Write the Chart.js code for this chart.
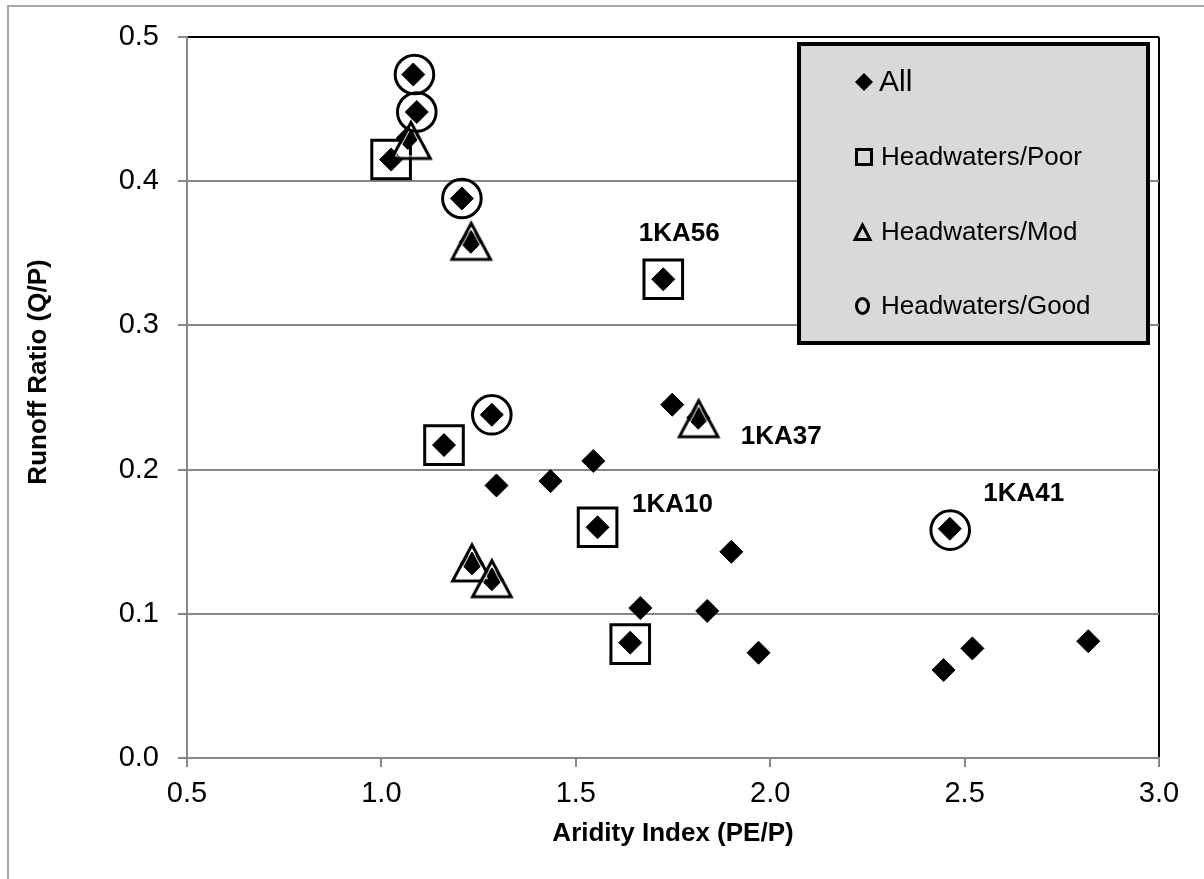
<!DOCTYPE html>
<html>
<head>
<meta charset="utf-8">
<title>Runoff Ratio vs Aridity Index</title>
<script src="https://cdn.jsdelivr.net/npm/chart.js@4.4.1/dist/chart.umd.min.js"></script>
<style>
  body { margin: 0; background: #fff; }
  #wrap { width: 1204px; height: 879px; }
</style>
</head>
<body>
<div id="wrap"><canvas id="chart" width="1204" height="879"></canvas></div>
<script>
const FONT = '"Liberation Sans", Arial, sans-serif';
const GRID = '#878787';

// Axis ticks
const xTicks = [0.5, 1.0, 1.5, 2.0, 2.5, 3.0];
const yTicks = [0.0, 0.1, 0.2, 0.3, 0.4, 0.5];

const seriesNames = ['All', 'Headwaters/Poor', 'Headwaters/Mod', 'Headwaters/Good'];
const yTitle = 'Runoff Ratio (Q/P)';

// Aridity index (PE/P) and runoff ratio (Q/P), every catchment
const allX = [1.082, 1.091, 1.068, 1.025, 1.207, 1.230, 1.725, 1.748, 1.815, 1.161, 1.284, 1.545, 1.296,
              1.435, 1.556, 1.900, 1.233, 1.284, 1.666, 1.838, 1.640, 1.970, 2.462, 2.446, 2.520, 2.818];
const allY = [0.474, 0.448, 0.430, 0.415, 0.388, 0.358, 0.332, 0.245, 0.236, 0.217, 0.238, 0.206, 0.189,
              0.192, 0.160, 0.143, 0.135, 0.124, 0.104, 0.102, 0.080, 0.073, 0.159, 0.061, 0.076, 0.081];

// Headwater catchments by condition
const poorX = [1.025, 1.161, 1.725, 1.556, 1.640];
const poorY = [0.415, 0.217, 0.332, 0.160, 0.079];
const modX = [1.076, 1.231, 1.816, 1.233, 1.284];
const modY = [0.429, 0.359, 0.236, 0.136, 0.125];
const goodX = [1.085, 1.091, 1.207, 1.284, 2.463];
const goodY = [0.474, 0.448, 0.388, 0.238, 0.158];

// Named sites (index into allX/allY)
const siteNames = ['1KA56', '1KA37', '1KA10', '1KA41'];
const siteIndex = [6, 8, 14, 22];

function pairs(xs, ys) {
    return xs.map((x, i) => ({ x: x, y: ys[i] }));
}

// Hollow triangle marker, centred on its bounding box
function makeTriangle() {
    const c = document.createElement('canvas');
    c.width = 46;
    c.height = 46;
    const g = c.getContext('2d');
    const pts = [[23, 6], [42.3, 42], [3.7, 42]];
    g.lineJoin = 'miter';
    g.lineWidth = 3;
    g.strokeStyle = '#000';
    g.beginPath();
    pts.forEach((p, i) => i ? g.lineTo(p[0], p[1]) : g.moveTo(p[0], p[1]));
    g.closePath();
    g.stroke();
    // thin white line just inside the outline
    const cx = 23, cy = 30.45, k = 0.8;
    g.lineWidth = 1;
    g.strokeStyle = '#fff';
    g.beginPath();
    pts.forEach((p, i) => {
        const x = cx + (p[0] - cx) * k, y = cy + (p[1] - cy) * k;
        i ? g.lineTo(x, y) : g.moveTo(x, y);
    });
    g.closePath();
    g.stroke();
    return c;
}

function drawLegendMarker(ctx, i, x, y) {
    ctx.save();
    ctx.strokeStyle = '#000';
    ctx.fillStyle = '#000';
    ctx.lineWidth = 3;
    ctx.beginPath();
    if (i === 0) {
        ctx.moveTo(x - 9, y); ctx.lineTo(x, y - 9); ctx.lineTo(x + 9, y); ctx.lineTo(x, y + 9);
        ctx.closePath();
        ctx.fill();
    } else if (i === 1) {
        ctx.rect(x - 7.5, y - 7.5, 15, 15);
        ctx.stroke();
    } else if (i === 2) {
        ctx.moveTo(x - 1.5, y - 7); ctx.lineTo(x + 6, y + 7.5); ctx.lineTo(x - 9, y + 7.5);
        ctx.closePath();
        ctx.stroke();
    } else {
        ctx.ellipse(x - 1.5, y, 6, 7.5, 0, 0, Math.PI * 2);
        ctx.stroke();
    }
    ctx.restore();
}

// Grey frame round the figure, plus the vertical axis title
const frame = {
    id: 'frame',
    beforeDraw(chart) {
        const ctx = chart.ctx;
        ctx.save();
        ctx.strokeStyle = '#a6a6a6';
        ctx.lineWidth = 2;
        ctx.beginPath();
        ctx.moveTo(8, 879);
        ctx.lineTo(8, 6);
        ctx.lineTo(1204, 6);
        ctx.stroke();
        ctx.translate(39, 372);
        ctx.rotate(-Math.PI / 2);
        ctx.fillStyle = '#000';
        ctx.font = 'bold 26px ' + FONT;
        ctx.textAlign = 'center';
        ctx.textBaseline = 'middle';
        ctx.fillText(yTitle, 0, 0);
        ctx.restore();
    }
};

// Legend box in the top right of the plot
const boxLegend = {
    id: 'boxLegend',
    afterDatasetsDraw(chart) {
        const ctx = chart.ctx;
        ctx.save();
        ctx.fillStyle = '#d9d9d9';
        ctx.fillRect(799, 44, 349, 299);
        ctx.lineWidth = 4;
        ctx.strokeStyle = '#000';
        ctx.strokeRect(799, 44, 349, 299);
        const rows = [82, 157, 232, 306];
        chart.data.datasets.forEach((ds, i) => {
            drawLegendMarker(ctx, i, 864, rows[i]);
            ctx.fillStyle = '#000';
            ctx.font = (i === 0 ? '30px ' : '26px ') + FONT;
            ctx.textBaseline = 'middle';
            ctx.textAlign = 'left';
            ctx.fillText(ds.label, i === 0 ? 879 : 881, rows[i] + 1);
        });
        ctx.restore();
    }
};

// Site names next to their points
const siteLabels = {
    id: 'siteLabels',
    afterDatasetsDraw(chart) {
        const ctx = chart.ctx;
        const pts = chart.getDatasetMeta(0).data;
        const offsets = [[16, -45], [83, 19], [75, -22], [74, -35]];
        ctx.save();
        ctx.fillStyle = '#000';
        ctx.font = 'bold 26px ' + FONT;
        ctx.textAlign = 'center';
        ctx.textBaseline = 'middle';
        siteNames.forEach((name, i) => {
            const p = pts[siteIndex[i]];
            ctx.fillText(name, p.x + offsets[i][0], p.y + offsets[i][1]);
        });
        ctx.restore();
    }
};

const triangle = makeTriangle();

new Chart(document.getElementById('chart'), {
    type: 'scatter',
    data: {
        datasets: [
            {
                label: seriesNames[0],
                data: pairs(allX, allY),
                pointStyle: 'rectRot',
                pointRadius: 11.5,
                backgroundColor: '#000',
                borderColor: '#000',
                borderWidth: 1,
                order: 4
            },
            {
                label: seriesNames[1],
                data: pairs(poorX, poorY),
                pointStyle: 'rect',
                pointRadius: 27.3,
                backgroundColor: 'rgba(0,0,0,0)',
                borderColor: '#000',
                borderWidth: 3,
                order: 3
            },
            {
                label: seriesNames[2],
                data: pairs(modX, modY),
                pointStyle: triangle,
                pointRadius: 20,
                backgroundColor: 'rgba(0,0,0,0)',
                borderColor: '#000',
                order: 2
            },
            {
                label: seriesNames[3],
                data: pairs(goodX, goodY),
                pointStyle: 'circle',
                pointRadius: 19.3,
                backgroundColor: 'rgba(0,0,0,0)',
                borderColor: '#000',
                borderWidth: 3,
                order: 1
            }
        ]
    },
    options: {
        responsive: false,
        animation: false,
        events: [],
        layout: { padding: { left: 0, top: 37, right: 45, bottom: 0 } },
        plugins: {
            legend: { display: false },
            tooltip: { enabled: false }
        },
        scales: {
            x: {
                type: 'linear',
                min: 0.5,
                max: 3.0,
                afterBuildTicks: s => { s.ticks = xTicks.map(v => ({ value: v })); },
                afterFit: s => { s.height = 121; },
                ticks: {
                    callback: v => v.toFixed(1),
                    color: '#000',
                    padding: 10,
                    font: { family: FONT, size: 29 }
                },
                grid: {
                    color: c => (c.tick && c.tick.value === 3) ? '#000' : 'rgba(0,0,0,0)',
                    lineWidth: 2,
                    tickColor: GRID,
                    tickLength: 9,
                    tickWidth: 2
                },
                border: { display: true, color: GRID, width: 2 },
                title: {
                    display: true,
                    text: 'Aridity Index (PE/P)',
                    color: '#000',
                    font: { family: FONT, size: 26, weight: 'bold' },
                    padding: { top: 0, bottom: 30 }
                }
            },
            y: {
                type: 'linear',
                min: 0,
                max: 0.5,
                afterBuildTicks: s => { s.ticks = yTicks.map(v => ({ value: v })); },
                afterFit: s => { s.width = 187; },
                ticks: {
                    callback: v => v.toFixed(1),
                    color: '#000',
                    padding: 19,
                    font: { family: FONT, size: 29 }
                },
                grid: {
                    color: c => (c.tick && c.tick.value === 0.5) ? '#000' : GRID,
                    lineWidth: 2,
                    tickColor: GRID,
                    tickLength: 9,
                    tickWidth: 2
                },
                border: { display: true, color: GRID, width: 2 }
            }
        }
    },
    plugins: [frame, boxLegend, siteLabels]
});
</script>
</body>
</html>
